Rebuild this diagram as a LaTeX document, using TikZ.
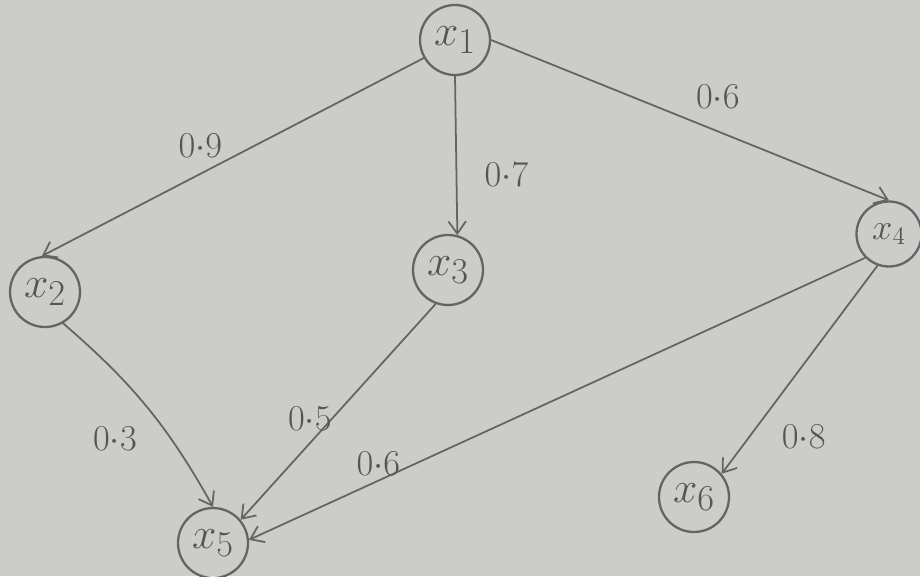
\documentclass[tikz,border=0pt]{standalone}
\definecolor{paper}{RGB}{204,204,200}
\definecolor{pencil}{RGB}{100,100,100}
\usetikzlibrary{arrows.meta,positioning}

\begin{document}
\begin{tikzpicture}[x=0.02cm, y=-0.02cm,
    vtx/.style={draw=pencil, circle, line width=1.3pt, minimum size=1.4cm,
                inner sep=0pt, font=\Huge, text=pencil!85!black},
    arr/.style={-{Straight Barb[length=7pt,width=10pt]}, pencil, line width=1pt},
    lbl/.style={font=\huge, text=pencil!85!black}
  ]
    \fill[paper] (0,0) rectangle (920,576);
    \useasboundingbox (0,0) rectangle (920,576);

    \node[vtx] (x1) at (455,40)  {$x_1$};
    \node[vtx] (x2) at (45,292)  {$x_2$};
    \node[vtx] (x3) at (448,270) {$x_3$};
    \node[vtx, minimum size=1.3cm, font=\huge] (x4) at (889,234) {$x_4$};
    \node[vtx] (x5) at (213,543) {$x_5$};
    \node[vtx] (x6) at (694,497) {$x_6$};

    % weighted edges
    \draw[arr] (x1.210) -- (x2.95)
      node[lbl, pos=0.585, yshift=0.56cm] {$0{\cdot}9$};
    \draw[arr] (x1.south) -- (x3.75)
      node[lbl, pos=0.62, xshift=1cm] {$0{\cdot}7$};
    \draw[arr] (x1.east) -- (x4.north)
      node[lbl, pos=0.57, yshift=0.7cm] {$0{\cdot}6$};
    \draw[arr] (x2.300) to[bend left=10]
      node[lbl, pos=0.65, xshift=-1.05cm, yshift=-0.1cm] {$0{\cdot}3$} (x5.north);
    \draw[arr] (x3.250) -- (x5.40)
      node[lbl, pos=0.53, xshift=-0.45cm] {$0{\cdot}5$};
    \draw[arr] (x4.225) -- (x5.5)
      node[lbl, pos=0.79, yshift=0.33cm] {$0{\cdot}6$};
    \draw[arr] (x4.250) -- (x6.40)
      node[lbl, pos=0.82, xshift=1.08cm] {$0{\cdot}8$};
\end{tikzpicture}
\end{document}
